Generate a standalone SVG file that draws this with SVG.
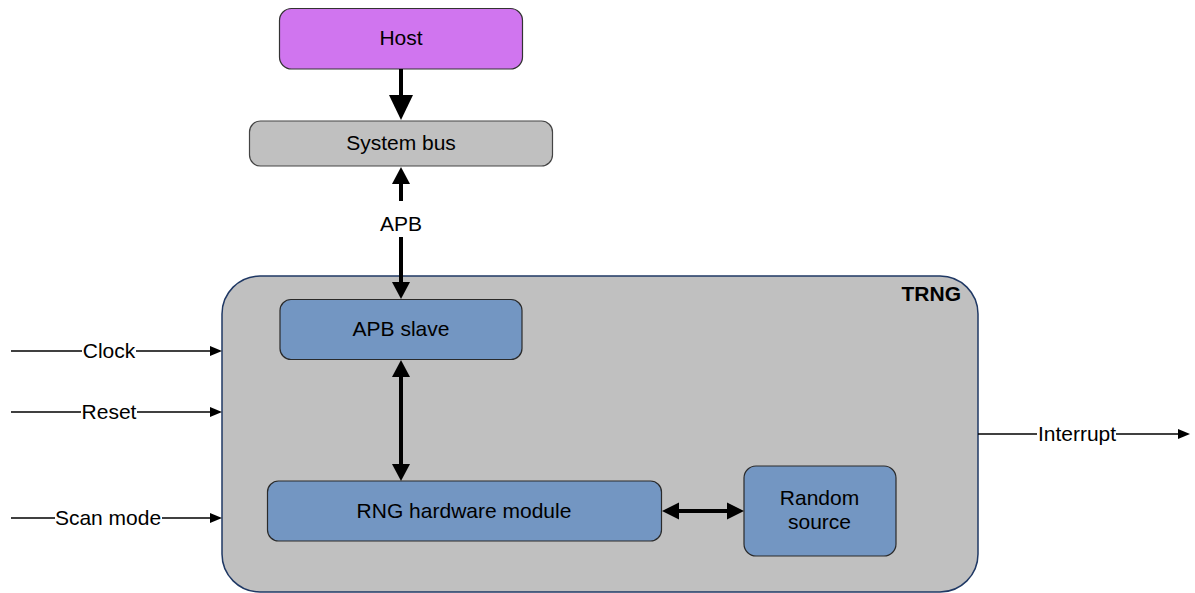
<svg xmlns="http://www.w3.org/2000/svg" width="1195" height="593" viewBox="0 0 1195 593">
<style>
text{font-family:"Liberation Sans",Arial,sans-serif;font-size:21px;fill:#000;}
.c{text-anchor:middle;}
.blue{fill:#7396C2;stroke:#2a2a2a;stroke-width:1.2;}
.thin{stroke:#000;stroke-width:1.3;fill:none;}
.thick{stroke:#000;stroke-width:4;fill:none;}
.lbl{fill:#fff;}
</style>
<rect x="0" y="0" width="1195" height="593" fill="#fff"/>
<g id="trng">
<rect x="222" y="276" width="756" height="316" rx="38" ry="38" fill="#C0C0C0" stroke="#1F3864" stroke-width="1.5"/>
<text x="961" y="301" text-anchor="end" font-weight="bold">TRNG</text>
</g>
<g id="host">
<rect x="279.5" y="8.5" width="243" height="60.5" rx="12" fill="#D075EF" stroke="#333" stroke-width="1.2"/>
<text class="c" x="401" y="45">Host</text>
</g>
<g id="system-bus">
<rect x="249.5" y="121" width="303" height="45" rx="11" fill="#C0C0C0" stroke="#444" stroke-width="1.2"/>
<text class="c" x="401" y="150">System bus</text>
</g>
<g id="apb-slave">
<rect class="blue" x="280" y="299.5" width="242" height="60" rx="11"/>
<text class="c" x="401" y="336">APB slave</text>
</g>
<g id="rng-module">
<rect class="blue" x="267.5" y="481" width="394" height="60" rx="11"/>
<text class="c" x="464" y="518">RNG hardware module</text>
</g>
<g id="random-source">
<rect class="blue" x="744" y="466" width="152" height="90" rx="12"/>
<text class="c" x="819.5" y="505">Random</text>
<text class="c" x="819.5" y="529">source</text>
</g>
<g id="connectors">
<!-- Host -> System bus -->
<line class="thick" x1="401" y1="69" x2="401" y2="97"/>
<polygon points="389,95 413,95 401,120"/>
<!-- System bus <-> APB slave (APB) -->
<line class="thick" x1="401" y1="182" x2="401" y2="283"/>
<polygon points="401,167 392,184 410,184"/>
<polygon points="401,299 392,282 410,282"/>
<rect class="lbl" x="377" y="201" width="48" height="36"/>
<text class="c" x="401" y="231">APB</text>
<!-- APB slave <-> RNG -->
<line class="thick" x1="401" y1="375" x2="401" y2="465"/>
<polygon points="401,360 392,377 410,377"/>
<polygon points="401,481 392,464 410,464"/>
<!-- RNG <-> Random source -->
<line class="thick" x1="677" y1="511" x2="728" y2="511"/>
<polygon points="662,511 679,502.5 679,519.5"/>
<polygon points="744,511 727,502.5 727,519.5"/>
<!-- Clock -->
<line class="thin" x1="11" y1="351" x2="211" y2="351"/>
<polygon points="210,346 222,351 210,356"/>
<rect class="lbl" x="82" y="338" width="54" height="26"/>
<text class="c" x="109" y="358">Clock</text>
<!-- Reset -->
<line class="thin" x1="11" y1="412" x2="211" y2="412"/>
<polygon points="210,407 222,412 210,417"/>
<rect class="lbl" x="81" y="399" width="56" height="26"/>
<text class="c" x="109" y="419">Reset</text>
<!-- Scan mode -->
<line class="thin" x1="11" y1="518" x2="211" y2="518"/>
<polygon points="210,513 222,518 210,523"/>
<rect class="lbl" x="55" y="505" width="107" height="26"/>
<text class="c" x="108" y="525">Scan mode</text>
<!-- Interrupt -->
<line class="thin" x1="978" y1="434" x2="1180" y2="434"/>
<polygon points="1178,429 1190,434 1178,439"/>
<rect class="lbl" x="1037" y="421" width="79" height="26"/>
<text class="c" x="1077" y="441">Interrupt</text>
</g>
</svg>
